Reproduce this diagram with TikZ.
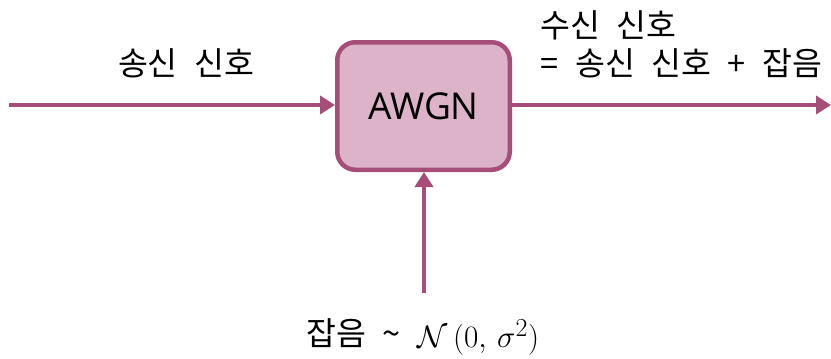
\documentclass[tikz,border=0pt]{standalone}
\usepackage{graphicx}
\usepackage{fontspec}
\setmainfont{Open Sans}
\newfontfamily\kr{Noto Sans CJK KR}
\usetikzlibrary{arrows.meta}
\definecolor{edgec}{HTML}{A64D79}
\definecolor{boxfill}{HTML}{DDB3C9}
\newcommand{\wsp}{\hspace{0.5em}}
\newcommand{\opsp}{\hspace{0.52em}}
\begin{document}
\begin{tikzpicture}[x=1pt,y=-1pt]
\useasboundingbox (0,0) rectangle (831,359);
\tikzset{
  conn/.style={draw=edgec, line width=4pt, -{Triangle[length=15pt,width=18pt]}},
  lab/.style={font=\kr\fontsize{32.5}{38}\selectfont, inner sep=0pt},
  blockbox/.style={draw=edgec, fill=boxfill, line width=4.5pt, rounded corners=18pt,
    minimum width=172.5pt, minimum height=127.5pt, font=\fontsize{37}{40}\selectfont}
}
\node[blockbox] (awgn) at (423.5,106) {AWGN};
\coordinate (in) at (9,105);
\coordinate (out) at (831,105);
\coordinate (noise) at (424,293);
\draw[conn] (in) -- (in -| awgn.west);
\draw[conn] (out -| awgn.east) -- (out);
\draw[conn] (noise) -- (noise |- awgn.south);
\node[lab] (tx) at (186,63) {송신\wsp 신호};
\node[lab, anchor=west] (rx1) at (540,25) {수신\wsp 신호};
\node[lab, anchor=west] (rx2) at (540,63) {=\opsp 송신\wsp 신호\opsp +\opsp 잡음};
\node[lab, anchor=west] (nz) at (306,337) {잡음\opsp \textasciitilde\opsp\raisebox{-0.06em}{\scalebox{1.25}{\fontsize{24.88}{30}\selectfont$\mathcal{N}\,(0,\,\sigma^2)$}}};
\end{tikzpicture}
\end{document}
